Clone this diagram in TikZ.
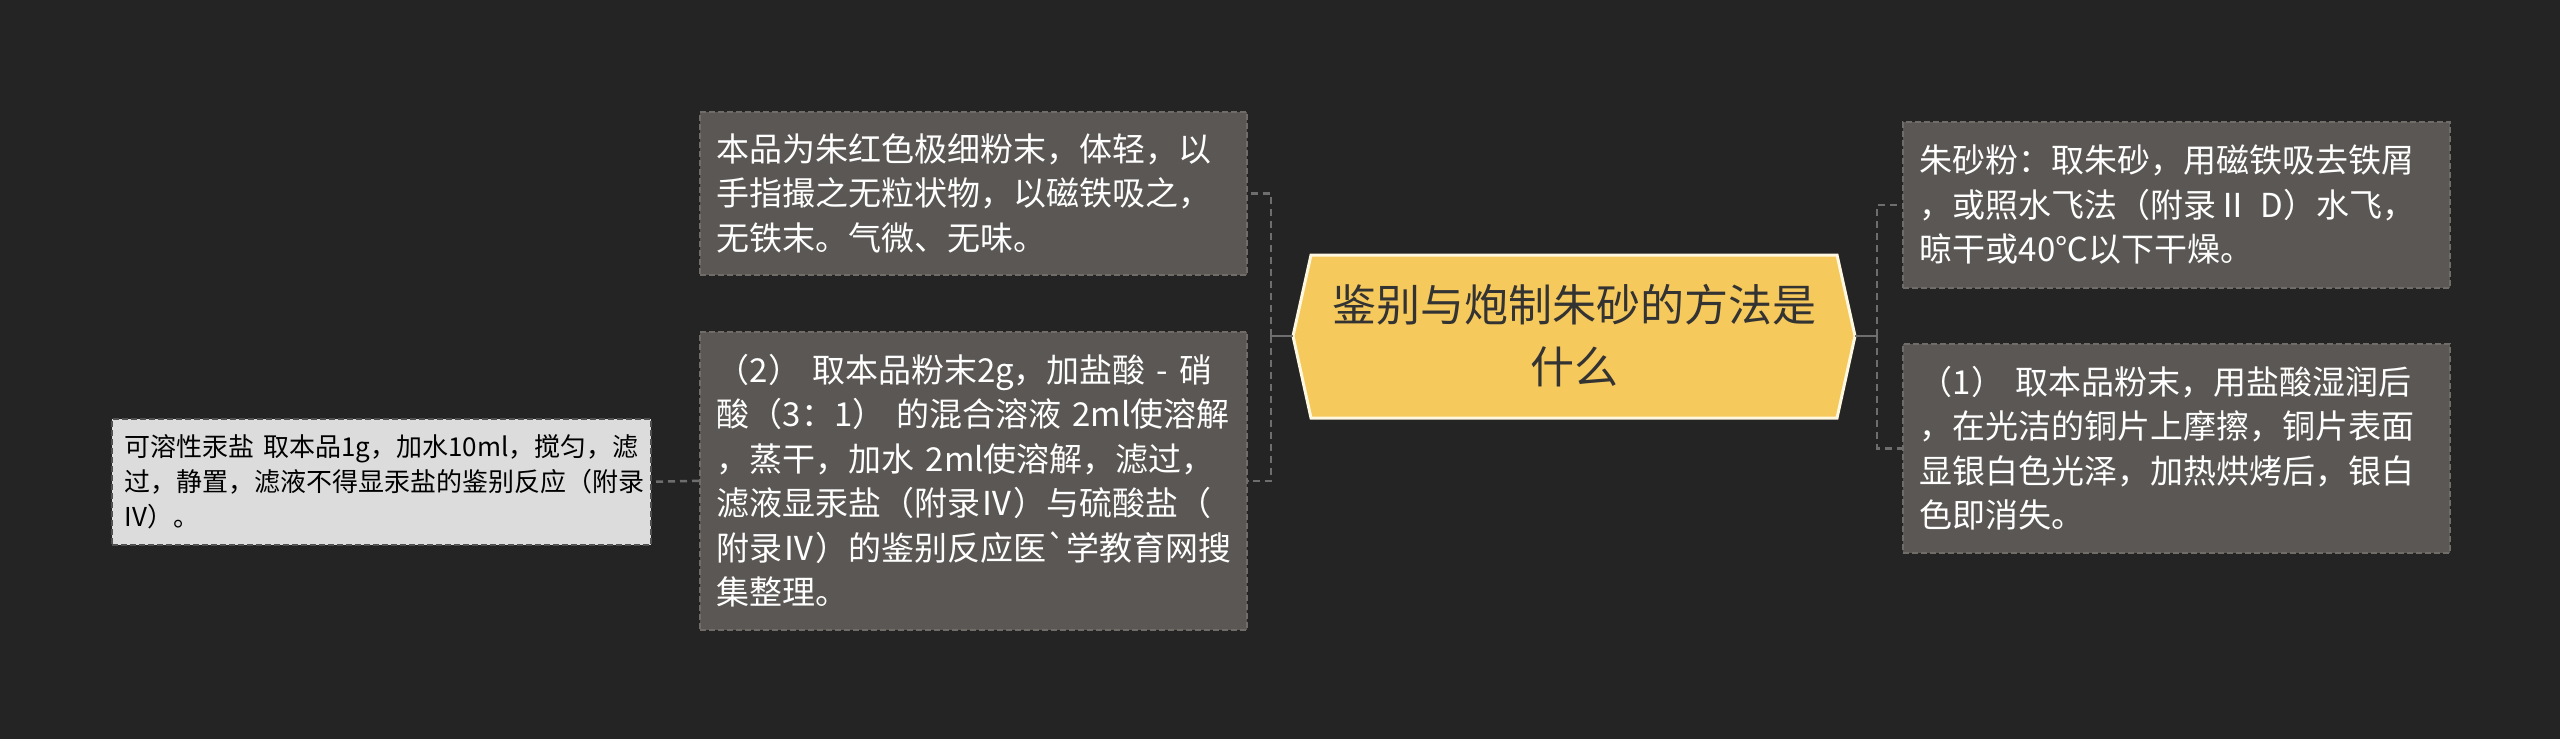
\documentclass[tikz,border=0pt]{standalone}
\usepackage{fontspec}
\newfontfamily\cjk{Noto Sans CJK SC}
\definecolor{bg}{RGB}{36,36,36}
\definecolor{boxfill}{RGB}{90,87,84}
\definecolor{boxline}{RGB}{112,108,104}
\definecolor{lightfill}{RGB}{220,220,220}
\definecolor{lightline}{RGB}{80,80,80}
\definecolor{hexfill}{RGB}{245,201,92}
\definecolor{hexline}{RGB}{255,248,225}
\definecolor{connc}{RGB}{110,110,110}
\definecolor{hextext}{RGB}{51,51,51}
\tikzset{
  leaf/.style={draw=boxline, fill=boxfill, dash pattern=on 6pt off 3pt, line width=1.5pt,
    text=white, align=left, inner xsep=17pt, inner ysep=0pt, anchor=north west,
    font=\cjk\fontsize{33pt}{44.5pt}\selectfont},
  lightleaf/.style={draw=lightline, fill=lightfill, dash pattern=on 6pt off 3pt, line width=1.5pt,
    text=black, align=left, inner xsep=13pt, inner ysep=0pt, anchor=north west,
    font=\cjk\fontsize{26pt}{35pt}\selectfont},
  conn/.style={draw=connc, line width=2.5pt},
  dconn/.style={conn, dash pattern=on 7pt off 5pt},
  hexshape/.style={fill=hexfill, draw=hexline, line width=3pt, line join=miter},
  hextxt/.style={text=hextext, align=center, font=\cjk\fontsize{44pt}{62pt}\selectfont}
}
\begin{document}
\begin{tikzpicture}[x=1pt,y=-1pt]
\fill[bg] (0,0) rectangle (2560,739);
\useasboundingbox (0,0) rectangle (2560,739);

% central hexagon
\draw[hexshape] (1293,336) -- (1311,255) -- (1837,255) -- (1855,336) -- (1837,418) -- (1311,418) -- cycle;
\node[hextxt] (hub) at (1574,336) {鉴别与炮制朱砂的方法是\\什么};
\coordinate (hubL) at (1293,336);
\coordinate (hubR) at (1855,336);
\coordinate (jl) at (1271,336);
\coordinate (jr) at (1877,336);

% left children
\node[leaf, text width=513pt, minimum height=163pt] (a) at (699,111)
  {本品为朱红色极细粉末，体轻，以\\手指撮之无粒状物，以磁铁吸之，\\无铁末。气微、无味。};
\node[leaf, text width=513pt, minimum height=298pt] (b) at (699,331)
  {（2）~取本品粉末2g，加盐酸~-~硝\\酸（3：1）~的混合溶液~2ml使溶解\\，蒸干，加水~2ml使溶解，滤过，\\滤液显汞盐（附录Ⅳ）与硫酸盐（\\附录Ⅳ）的鉴别反应医`学教育网搜\\集整理。};
\node[lightleaf, text width=513pt, minimum height=126pt] (c) at (111,418)
  {可溶性汞盐~取本品1g，加水10ml，搅匀，滤\\过，静置，滤液不得显汞盐的鉴别反应（附录\\IV）。};

% right children
\node[leaf, text width=513pt, minimum height=166pt] (d) at (1902,121)
  {朱砂粉：取朱砂，用磁铁吸去铁屑\\，或照水飞法（附录Ⅱ~D）水飞，\\晾干或40℃以下干燥。};
\node[leaf, text width=513pt, minimum height=209pt] (e) at (1902,343)
  {（1）~取本品粉末，用盐酸湿润后\\，在光洁的铜片上摩擦，铜片表面\\显银白色光泽，加热烘烤后，银白\\色即消失。};

% connectors
\draw[conn] (hubL) -- (jl);
\draw[dconn] (jl) |- (a.east);
\draw[dconn] (jl) |- (b.east);
\draw[dconn] (b.west) -- (c.east);
\draw[conn] (hubR) -- (jr);
\draw[dconn] (jr) |- (d.west);
\draw[dconn] (jr) |- (e.west);
\end{tikzpicture}
\end{document}
